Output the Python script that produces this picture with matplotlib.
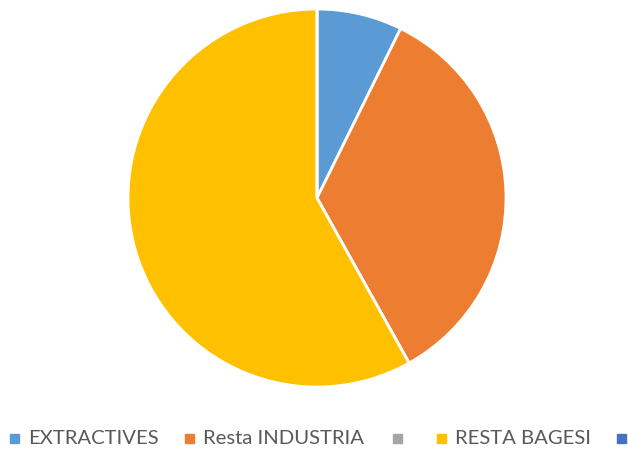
import matplotlib.pyplot as plt
from matplotlib.patches import Rectangle

# sector shares
labels = ['EXTRACTIVES', 'Resta INDUSTRIA', '', 'RESTA BAGESI', '']
values = [7.3, 34.6, 0.0, 58.1, 0.0]
colors = ['#5B9BD5', '#ED7D31', '#A5A5A5', '#FFC000', '#4472C4']

W, H = 628, 449
fig = plt.figure(figsize=(W / 100, H / 100), dpi=100)

# pie centre (317,198), radius 189 px
r = 189
ax = fig.add_axes([(317 - r) / W, 1 - (198 + r) / H, 2 * r / W, 2 * r / H])
ax.pie(values, colors=colors, startangle=90, counterclock=False,
       wedgeprops={'edgecolor': 'white', 'linewidth': 2})
ax.set_xlim(-1, 1)
ax.set_ylim(-1, 1)
ax.set_aspect('auto')
ax.axis('off')

# legend along the bottom, marker x positions in px
marker_x = [10, 185, 393, 437, 617]
y = 438
for mx, lab, col in zip(marker_x, labels, colors):
    fig.patches.append(Rectangle((mx / W, (H - y - 4.5) / H), 9 / W, 9 / H,
                                 transform=fig.transFigure, color=col))
    if lab:
        fig.text((mx + 18) / W, (H - y) / H, lab, fontsize=14.6,
                 family='Lato', color='#595959', va='center', ha='left')

fig.savefig('out.png', dpi=100)
